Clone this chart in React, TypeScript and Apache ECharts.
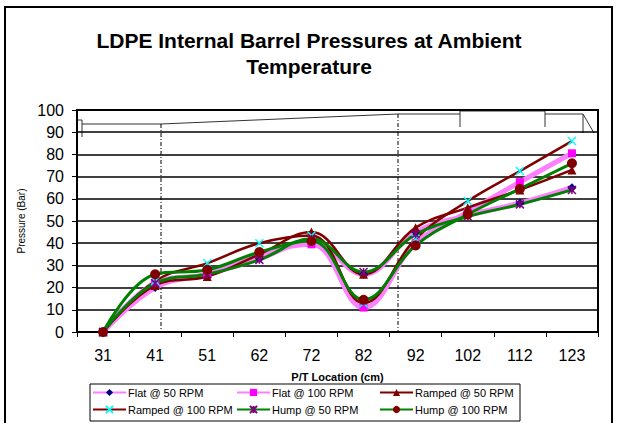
import React, { useEffect, useRef } from "react";
import * as echarts from "echarts";

const categories = ["31", "41", "51", "62", "72", "82", "92", "102", "112", "123"];
const flat50 = [0, 20, 26, 33, 41, 26, 45, 52.5, 58, 65];
const flat100 = [0, 22, 26, 35, 39.5, 11, 40, 54, 67.5, 80.5];
const ramped50 = [0, 21, 25, 35, 45, 26, 47, 56, 64, 73];
const ramped100 = [0, 23, 31, 40, 43.5, 13, 42, 59, 72.5, 86];
const hump50 = [0, 22, 26, 32.5, 42, 27, 44, 52, 57.5, 64];
const hump100 = [0, 26, 28, 36, 41, 14.5, 39, 53, 64.5, 76];
const yTicks = { min: 0, max: 100, interval: 10 };

const FONT = "Liberation Sans, Arial, sans-serif";
const X_SYM = "path://M0,0L10,10M10,0L0,10";
const STAR_SYM = "path://M0,0L10,10M10,0L0,10M5,0L5,10";

export default function App() {
  const ref = useRef<HTMLDivElement>(null);
  useEffect(() => {
    if (!ref.current) return;
    const chart = echarts.init(ref.current, null, { renderer: "svg" });
    const pink = "#ff80ff";
    const dred = "#800000";
    const green = "#008000";
    const mk = (name: string, data: number[], lineColor: string, lw: number, symbol: string, symColor: string, size: number, stroke?: boolean) => ({
      name,
      type: "line",
      data,
      smooth: 0.4,
      symbol,
      symbolSize: size,
      showAllSymbol: true,
      lineStyle: { color: lineColor, width: lw },
      itemStyle: stroke
        ? { color: "rgba(0,0,0,0)", borderColor: symColor, borderWidth: 1.5 }
        : { color: symColor, borderWidth: 0 },
      emphasis: { disabled: true },
    });
    const legendPos = [
      { name: "Flat @ 50 RPM", left: 92, top: 387 },
      { name: "Flat @ 100 RPM", left: 236, top: 387 },
      { name: "Ramped @ 50 RPM", left: 379, top: 387 },
      { name: "Ramped @ 100 RPM", left: 92, top: 404 },
      { name: "Hump @ 50 RPM", left: 236, top: 404 },
      { name: "Hump @ 100 RPM", left: 379, top: 404 },
    ];
    const lineStyleDec = { stroke: "#333", lineWidth: 1, fill: "none" };
    chart.setOption({
      animation: false,
      title: {
        text: "LDPE Internal Barrel Pressures at Ambient\nTemperature",
        left: "center",
        top: 22,
        textStyle: { fontFamily: FONT, fontWeight: "bold", fontSize: 21, lineHeight: 26, color: "#000" },
      },
      grid: { left: 77, right: 20, top: 110, bottom: 91, show: true, borderColor: "#000", borderWidth: 2, backgroundColor: "transparent" },
      legend: legendPos.map((l) => ({
        data: [l.name],
        left: l.left,
        top: l.top,
        itemWidth: 33,
        itemHeight: 9,
        itemGap: 2,
        padding: 0,
        selectedMode: false,
        textStyle: { fontFamily: FONT, fontSize: 11, color: "#000", padding: [0, 0, 0, -3] },
      })),
      xAxis: {
        type: "category",
        data: categories,
        boundaryGap: true,
        name: "P/T Location (cm)",
        nameLocation: "middle",
        nameGap: 39,
        nameTextStyle: { fontFamily: FONT, fontSize: 11, fontWeight: "bold", color: "#000" },
        axisLine: { lineStyle: { color: "#000", width: 2 } },
        axisTick: { show: true, length: 5, lineStyle: { color: "#000", width: 1 }, alignWithLabel: false },
        axisLabel: { fontFamily: FONT, fontSize: 16, color: "#000", margin: 15, interval: 0 },
        splitLine: { show: false },
      },
      yAxis: {
        type: "value",
        min: yTicks.min,
        max: yTicks.max,
        interval: yTicks.interval,
        name: "Pressure (Bar)",
        nameLocation: "middle",
        nameGap: 50,
        nameTextStyle: { fontFamily: FONT, fontSize: 10, color: "#000" },
        axisLine: { show: true, lineStyle: { color: "#000", width: 2 } },
        axisTick: { show: true, length: 5, lineStyle: { color: "#000", width: 1 } },
        axisLabel: { fontFamily: FONT, fontSize: 16, color: "#000", margin: 13 },
        splitLine: { show: true, lineStyle: { color: "#000", width: 1.5 } },
      },
      series: [
        mk("Flat @ 50 RPM", flat50, pink, 5, "diamond", "#000080", 9),
        mk("Flat @ 100 RPM", flat100, pink, 5, "rect", "#ff00ff", 8),
        mk("Ramped @ 50 RPM", ramped50, dred, 2.5, "triangle", dred, 9),
        mk("Ramped @ 100 RPM", ramped100, dred, 2.5, X_SYM, "#00ffff", 8, true),
        mk("Hump @ 50 RPM", hump50, green, 3, STAR_SYM, "#800080", 8, true),
        mk("Hump @ 100 RPM", hump100, green, 3, "circle", dred, 10),
      ],
      graphic: [
        { type: "rect", shape: { x: 5, y: 7, width: 607, height: 440 }, style: { fill: "none", stroke: "#000", lineWidth: 2 }, silent: true },
        { type: "rect", shape: { x: 90, y: 384, width: 430, height: 37 }, style: { fill: "none", stroke: "#000", lineWidth: 1 }, silent: true, z: -1 },
        { type: "polyline", shape: { points: [[77, 120], [82, 120], [82, 137]] }, style: lineStyleDec, silent: true },
        { type: "polyline", shape: { points: [[82, 124], [161, 124], [398, 114], [460, 114]] }, style: lineStyleDec, silent: true },
        { type: "polyline", shape: { points: [[460, 127], [460, 111], [545, 111], [545, 127]] }, style: lineStyleDec, silent: true },
        { type: "polyline", shape: { points: [[545, 114], [583, 114], [594, 133]] }, style: lineStyleDec, silent: true },
        { type: "line", shape: { x1: 583, y1: 114, x2: 583, y2: 133 }, style: lineStyleDec, silent: true },
        { type: "line", shape: { x1: 161, y1: 124, x2: 161, y2: 332 }, style: { stroke: "#000", lineWidth: 1, lineDash: [4, 2, 1, 2] }, silent: true },
        { type: "line", shape: { x1: 398, y1: 114, x2: 398, y2: 332 }, style: { stroke: "#000", lineWidth: 1, lineDash: [4, 2, 1, 2] }, silent: true },
      ],
    });
    return () => chart.dispose();
  }, []);
  return (
    <div
      ref={ref}
      style={{ position: "fixed", left: 0, top: 0, width: 618, height: 423, background: "#fff" }}
    />
  );
}
